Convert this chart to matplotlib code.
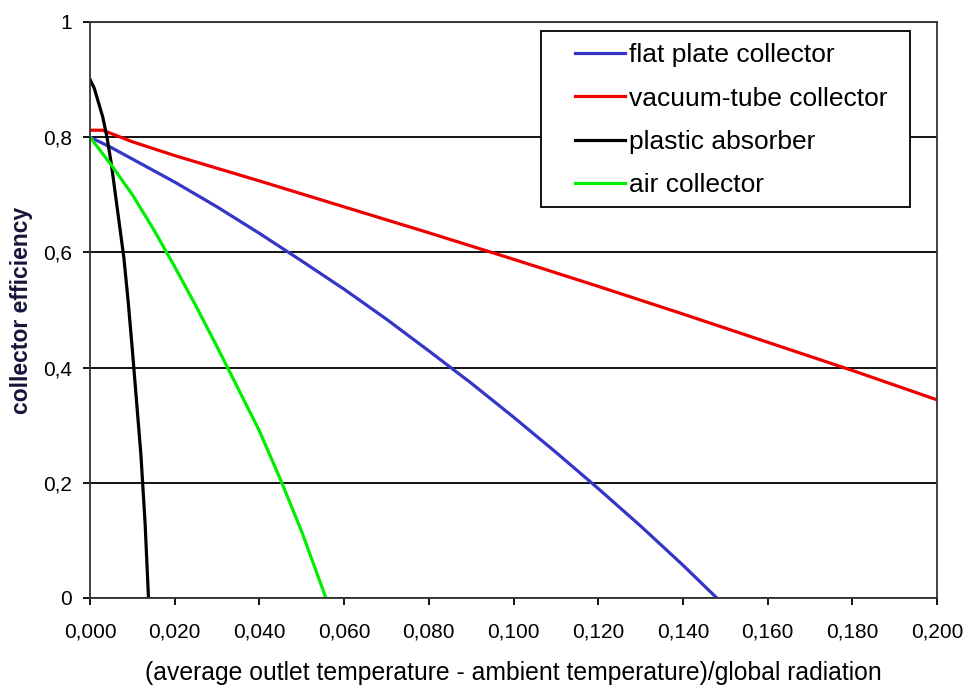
import matplotlib.pyplot as plt
from matplotlib.patches import Rectangle

plt.rcParams['font.family'] = ['Liberation Sans', 'DejaVu Sans']

# values
flat_x = [0.0, 0.005, 0.01, 0.02, 0.03, 0.04, 0.05, 0.06, 0.07, 0.08, 0.09,
          0.10, 0.11, 0.12, 0.13, 0.14, 0.148]
flat_y = [0.80, 0.782, 0.762, 0.722, 0.679, 0.633, 0.585, 0.536, 0.484, 0.429,
          0.373, 0.314, 0.253, 0.19, 0.125, 0.057, 0.0]

vac_x = [0.0, 0.003, 0.01, 0.02, 0.04, 0.06, 0.08, 0.10, 0.12, 0.14, 0.16, 0.18, 0.20]
vac_y = [0.812, 0.812, 0.792, 0.768, 0.724, 0.679, 0.634, 0.588, 0.541, 0.493,
         0.444, 0.395, 0.344]

plas_x = [0.0, 0.001, 0.002, 0.003, 0.004, 0.005, 0.006, 0.007, 0.008, 0.009,
          0.010, 0.011, 0.012, 0.013, 0.0138]
plas_y = [0.90, 0.885, 0.86, 0.835, 0.80, 0.755, 0.70, 0.645, 0.59, 0.515,
          0.43, 0.34, 0.25, 0.13, 0.0]

air_x = [0.0, 0.005, 0.01, 0.015, 0.02, 0.025, 0.03, 0.035, 0.04, 0.045, 0.05, 0.0557]
air_y = [0.80, 0.752, 0.70, 0.64, 0.575, 0.507, 0.436, 0.363, 0.29, 0.205, 0.115, 0.0]

xticks = [0.0, 0.02, 0.04, 0.06, 0.08, 0.10, 0.12, 0.14, 0.16, 0.18, 0.20]
xlabels = ['0,000', '0,020', '0,040', '0,060', '0,080', '0,100',
           '0,120', '0,140', '0,160', '0,180', '0,200']
yticks = [0, 0.2, 0.4, 0.6, 0.8, 1.0]
ylabels = ['0', '0,2', '0,4', '0,6', '0,8', '1']

fig = plt.figure(figsize=(9.66, 6.86), dpi=100)
ax = fig.add_axes([0.0932, 0.1283, 0.8768, 0.8397])

lw = 2.3
ax.plot(flat_x, flat_y, color='#3535c8', lw=lw, label='flat plate collector')
ax.plot(vac_x, vac_y, color='#ee0000', lw=lw, label='vacuum-tube collector')
ax.plot(plas_x, plas_y, color='black', lw=lw, label='plastic absorber')
ax.plot(air_x, air_y, color='#00ee00', lw=lw, label='air collector')

ax.set_xlim(0, 0.2)
ax.set_ylim(0, 1)
ax.set_xticks(xticks)
ax.set_xticklabels(xlabels)
ax.set_yticks(yticks)
ax.set_yticklabels(ylabels)
ax.tick_params(axis='both', direction='out', length=5, width=1.3, labelsize=15, colors='black')
ax.tick_params(axis='x', pad=13)
ax.tick_params(axis='y', pad=8)
ax.yaxis.grid(True, color='black', lw=1.3)
ax.set_axisbelow(True)
for s in ax.spines.values():
    s.set_color('#333333')
    s.set_linewidth(1.3)

ax.set_xlabel('(average outlet temperature - ambient temperature)/global radiation',
              fontsize=17.8, labelpad=14)
ax.set_ylabel('collector efficiency', fontsize=16.5, fontweight='bold',
              color='#15153a', labelpad=7)

# legend box drawn separately so its padding matches the original
box = Rectangle((0.5325, 0.679), 0.4355, 0.305, transform=ax.transAxes,
                facecolor='white', edgecolor='black', lw=1.3, zorder=4)
ax.add_patch(box)
leg = ax.legend(loc='upper left', bbox_to_anchor=(0.573, 0.963), fontsize=19,
                frameon=False, handlelength=1.9, handletextpad=0.12,
                labelspacing=0.73, borderpad=0, borderaxespad=0)
leg.set_zorder(5)

fig.savefig('out.png', dpi=100, facecolor='white')
